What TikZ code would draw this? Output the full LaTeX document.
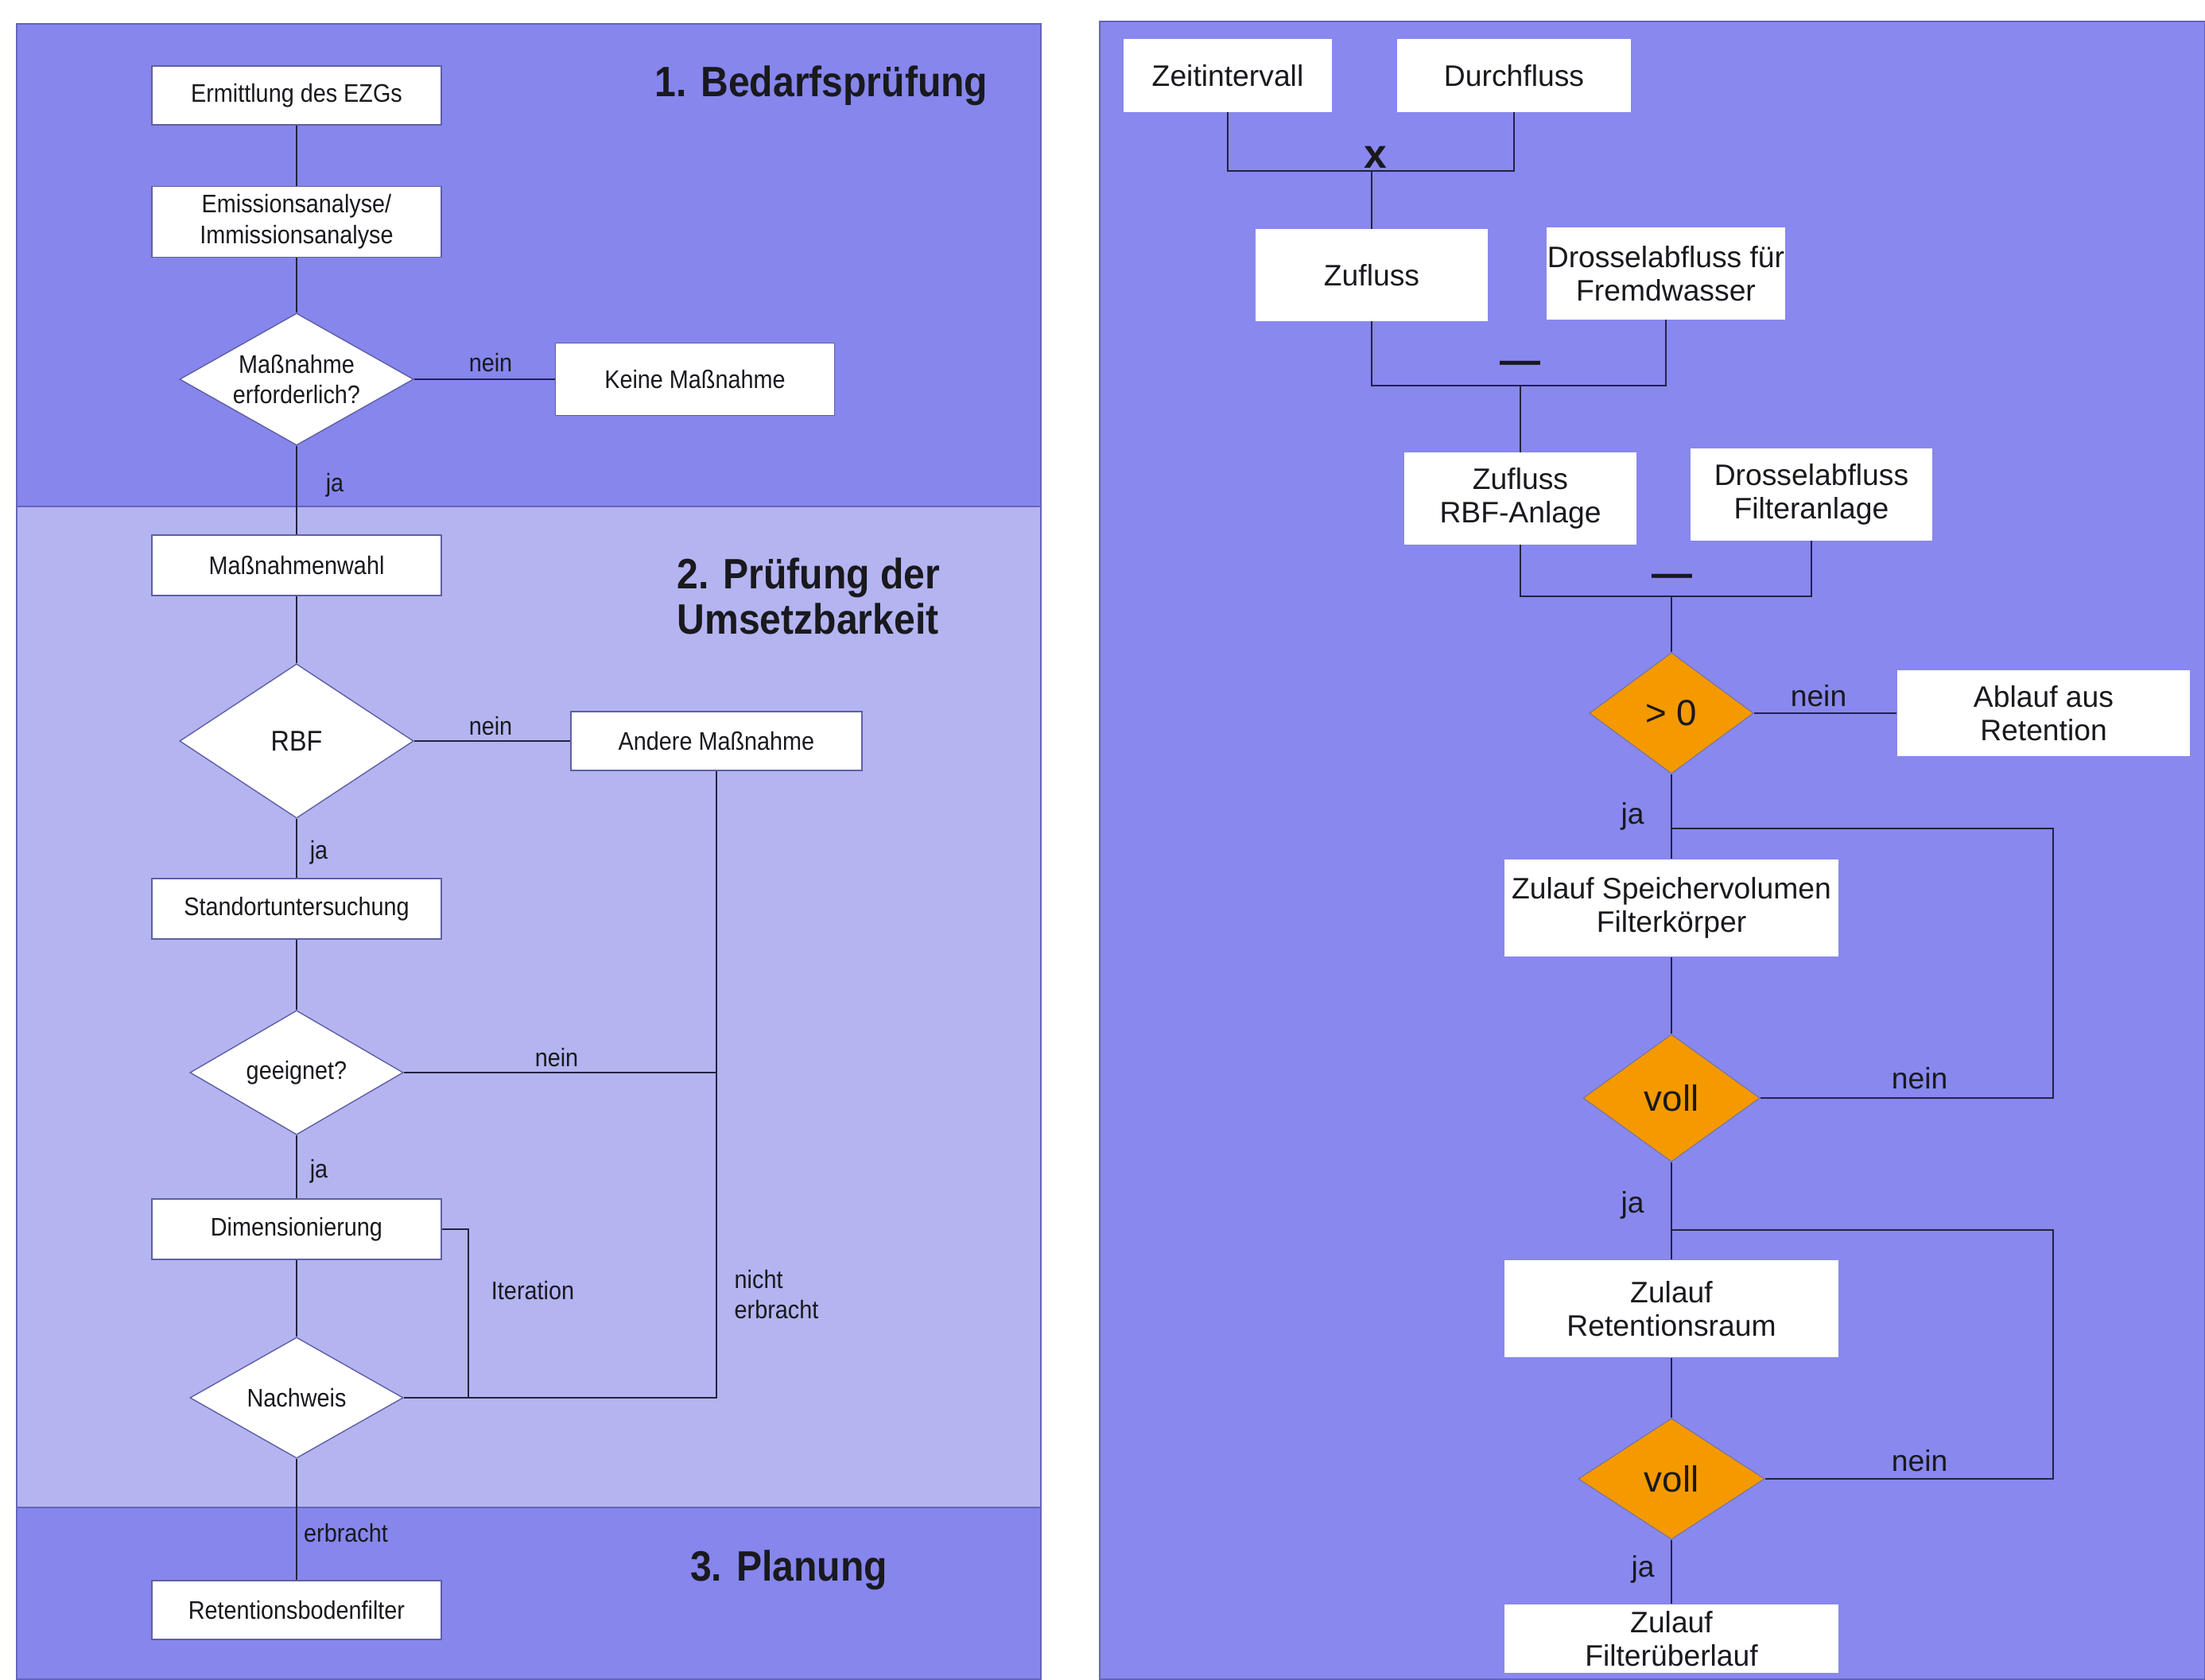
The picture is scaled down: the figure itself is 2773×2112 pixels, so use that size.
\documentclass[tikz,border=0pt]{standalone}
\usepackage{fontspec}
\setmainfont{Liberation Sans}
\newfontfamily\narrowSans[FakeStretch=0.9]{Liberation Sans}
\usetikzlibrary{shapes.geometric}
\definecolor{bandDark}{RGB}{134,134,236}
\definecolor{bandLight}{RGB}{180,180,241}
\definecolor{panelRight}{RGB}{136,136,238}
\definecolor{bandLine}{RGB}{100,100,190}
\definecolor{boxLine}{RGB}{95,95,165}
\definecolor{lineDark}{RGB}{35,35,65}
\definecolor{orangeFill}{RGB}{245,153,0}
\definecolor{diamondLine}{RGB}{120,115,150}
\definecolor{textDark}{RGB}{25,25,30}

\begin{document}
\begin{tikzpicture}[x=0.01cm, y=-0.01cm]
    \tikzstyle{leftBox} = [rectangle, draw=boxLine, line width=0.4pt, fill=white,
        inner sep=0pt, align=center, text=textDark,
        font=\narrowSans\fontsize{9.1}{11}\selectfont,
        minimum width=3.64cm, minimum height=0.76cm]
    \tikzstyle{leftDiamond} = [diamond, draw=boxLine, line width=0.4pt, fill=white,
        inner sep=0pt, align=center, text=textDark,
        font=\narrowSans\fontsize{9.1}{11}\selectfont,
        minimum width=2.68cm, minimum height=1.52cm]
    \tikzstyle{rightBox} = [rectangle, fill=white, inner sep=0pt, align=center,
        text=textDark, font=\fontsize{10.6}{12}\selectfont,
        minimum height=1.15cm]
    \tikzstyle{rightDiamond} = [diamond, draw=diamondLine, line width=0.3pt,
        fill=orangeFill, inner sep=0pt, text=textDark,
        font=\fontsize{13}{15}\selectfont]
    \tikzstyle{leftEdge} = [draw=lineDark, line width=0.6pt]
    \tikzstyle{rightEdge} = [draw=lineDark, line width=0.8pt]
    \tikzstyle{leftText} = [text=textDark, inner sep=0pt,
        font=\narrowSans\fontsize{9.1}{11}\selectfont]
    \tikzstyle{rightText} = [text=textDark, inner sep=0pt,
        font=\fontsize{10.6}{12}\selectfont]
    \tikzstyle{phaseTitle} = [text=textDark, inner sep=0pt, align=left,
        font=\narrowSans\bfseries\fontsize{15.2}{16}\selectfont]

    \useasboundingbox (0,0) rectangle (2773,2112);
    \fill[white] (0,0) rectangle (2773,2112);
    \filldraw[fill=bandDark, draw=bandLine, line width=0.4pt] (21,30) rectangle (1309,637);
    \filldraw[fill=bandLight, draw=bandLine, line width=0.4pt] (21,637) rectangle (1309,1896);
    \filldraw[fill=bandDark, draw=bandLine, line width=0.4pt] (21,1896) rectangle (1309,2112);
    \filldraw[fill=panelRight, draw=bandLine, line width=0.4pt] (1383,27) rectangle (2773,2112);

    \node[phaseTitle, anchor=east] (phaseOne) at (1243,108) {1. Bedarfsprüfung};
    \node[phaseTitle, anchor=west] (phaseTwo) at (851,750) {2. Prüfung der\\Umsetzbarkeit};
    \node[phaseTitle] (phaseThree) at (992,1975) {3. Planung};

    \node[leftBox, minimum height=0.74cm] (ezg) at (373,120) {Ermittlung des EZGs};
    \node[leftBox, minimum height=0.89cm] (analyse) at (373,279) {Emissionsanalyse/\\Immissionsanalyse};
    \node[leftDiamond, minimum width=2.94cm, minimum height=1.66cm,
        inner sep=-10pt, aspect=1.77] (erforderlich) at (373,477) {Maßnahme\\erforderlich?};
    \node[leftBox, minimum width=3.51cm, minimum height=0.91cm] (keine) at (874,477) {Keine Maßnahme};
    \node[leftBox] (wahl) at (373,711) {Maßnahmenwahl};
    \node[leftDiamond, minimum width=2.94cm, minimum height=1.94cm,
        font=\narrowSans\fontsize{10.2}{12}\selectfont] (rbf) at (373,932) {RBF};
    \node[leftBox, minimum width=3.66cm, minimum height=0.74cm] (andere) at (901,932) {Andere Maßnahme};
    \node[leftBox] (standort) at (373,1143) {Standortuntersuchung};
    \node[leftDiamond] (geeignet) at (373,1349) {geeignet?};
    \node[leftBox] (dim) at (373,1546) {Dimensionierung};
    \node[leftDiamond] (nachweis) at (373,1758) {Nachweis};
    \node[leftBox, minimum height=0.74cm] (rbfilter) at (373,2025) {Retentionsbodenfilter};
    \coordinate (iteration) at (589,1546);

    \foreach \from/\to in {ezg/analyse, analyse/erforderlich, erforderlich/keine,
                            erforderlich/wahl, wahl/rbf, rbf/andere, rbf/standort,
                            standort/geeignet, geeignet/dim, dim/nachweis, nachweis/rbfilter}
        \path[leftEdge] (\from) edge (\to);
    \draw[leftEdge] (geeignet) -- (geeignet -| andere);
    \draw[leftEdge] (andere) |- (nachweis);
    \draw[leftEdge] (dim) -- (iteration) |- (nachweis);

    \node[leftText] (neinA) at (617,456) {nein};
    \node[leftText] (jaA) at (421,610) {ja};
    \node[leftText] (neinB) at (617,913) {nein};
    \node[leftText] (jaB) at (401,1072) {ja};
    \node[leftText] (neinC) at (700,1330) {nein};
    \node[leftText] (jaC) at (401,1473) {ja};
    \node[leftText] (iterText) at (670,1623) {Iteration};
    \node[leftText, anchor=west, align=left] (nichtText) at (923,1628) {nicht\\erbracht};
    \node[leftText] (erbrachtText) at (435,1928) {erbracht};

    \node[rightBox, minimum width=2.62cm, minimum height=0.91cm] (zeit) at (1544,95) {Zeitintervall};
    \node[rightBox, minimum width=2.94cm, minimum height=0.91cm] (durch) at (1904,95) {Durchfluss};
    \node[rightBox, minimum width=2.92cm] (zufluss) at (1725,346) {Zufluss};
    \node[rightBox, minimum width=2.99cm] (fremd) at (2095,344) {Drosselabfluss für\\Fremdwasser};
    \node[rightBox, minimum width=2.92cm] (zuRBF) at (1912,627) {Zufluss\\RBF-Anlage};
    \node[rightBox, minimum width=3.03cm] (filter) at (2278,622) {Drosselabfluss\\Filteranlage};
    \node[rightDiamond, minimum width=2.06cm, minimum height=1.52cm] (gtZero) at (2102,897) {> 0};
    \node[rightBox, minimum width=3.68cm, minimum height=1.07cm] (ablauf) at (2570,897) {Ablauf aus\\Retention};
    \node[rightBox, minimum width=4.19cm, minimum height=1.22cm] (speicher) at (2102,1142) {Zulauf Speichervolumen\\Filterkörper};
    \node[rightDiamond, minimum width=2.22cm, minimum height=1.60cm] (vollA) at (2102,1381) {voll};
    \node[rightBox, minimum width=4.19cm, minimum height=1.22cm] (raum) at (2102,1646) {Zulauf\\Retentionsraum};
    \node[rightDiamond, minimum width=2.34cm, minimum height=1.52cm] (vollB) at (2102,1860) {voll};
    \node[rightBox, minimum width=4.19cm, minimum height=0.86cm] (ueberlauf) at (2102,2061) {Zulauf\\Filterüberlauf};

    \coordinate (mal) at (1725,215);
    \coordinate (minusA) at (1912,485);
    \coordinate (minusB) at (2102,750);
    \coordinate (splitA) at (2102,1042);
    \coordinate (splitB) at (2102,1547);
    \coordinate (loopA) at (2582,1042);
    \coordinate (loopB) at (2582,1547);

    \draw[rightEdge] (zeit) |- (mal) -| (durch);
    \draw[rightEdge] (zufluss) |- (minusA) -| (fremd);
    \draw[rightEdge] (zuRBF) |- (minusB) -| (filter);
    \foreach \from/\to in {mal/zufluss, minusA/zuRBF, minusB/gtZero, gtZero/ablauf,
                            gtZero/speicher, speicher/vollA, vollA/raum, raum/vollB,
                            vollB/ueberlauf}
        \path[rightEdge] (\from) edge (\to);
    \draw[rightEdge] (splitA) -- (loopA) |- (vollA);
    \draw[rightEdge] (splitB) -- (loopB) |- (vollB);

    \node[rightText, font=\bfseries\fontsize{14.7}{16}\selectfont] (malText) at (1730,198) {x};
    \node[rightText, font=\bfseries\fontsize{14.5}{16}\selectfont] (minusTextA) at (1912,462) {\textemdash};
    \node[rightText, font=\bfseries\fontsize{14.5}{16}\selectfont] (minusTextB) at (2103,730) {\textemdash};
    \node[rightText] (neinD) at (2287,875) {nein};
    \node[rightText] (jaD) at (2053,1027) {ja};
    \node[rightText] (neinE) at (2414,1356) {nein};
    \node[rightText] (jaE) at (2053,1516) {ja};
    \node[rightText] (neinF) at (2414,1837) {nein};
    \node[rightText] (jaF) at (2066,1974) {ja};
\end{tikzpicture}
\end{document}
